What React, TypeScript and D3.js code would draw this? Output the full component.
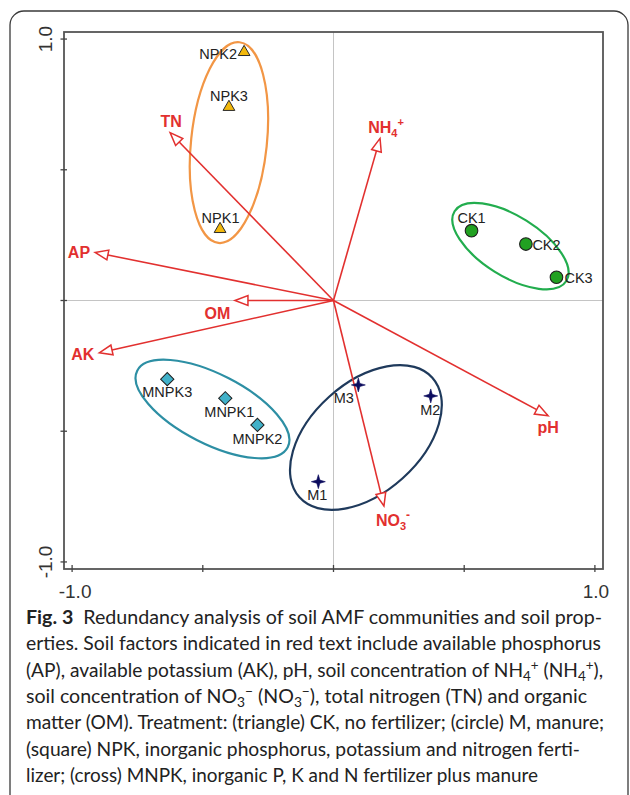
import * as d3 from 'd3'

// sample scores (RDA axis units)
const npkNames = ['NPK1', 'NPK2', 'NPK3']
const npkX = [-0.434, -0.342, -0.4]
const npkY = [0.273, 0.95, 0.74]
const ckNames = ['CK1', 'CK2', 'CK3']
const ckX = [0.528, 0.736, 0.853]
const ckY = [0.267, 0.216, 0.089]
const mnpkNames = ['MNPK1', 'MNPK2', 'MNPK3']
const mnpkX = [-0.414, -0.291, -0.636]
const mnpkY = [-0.374, -0.476, -0.301]
const mNames = ['M1', 'M2', 'M3']
const mX = [-0.058, 0.372, 0.095]
const mY = [-0.693, -0.365, -0.323]

// soil factor vectors
const envNames = ['TN', 'AP', 'NH4', 'OM', 'AK', 'pH', 'NO3']
const envX = [-0.625, -0.912, 0.178, -0.377, -0.896, 0.821, 0.193]
const envY = [0.642, 0.184, 0.62, 0, -0.2, -0.441, -0.786]

// group ellipses: centre, semi axes, tilt (deg)
const ellGroups = ['NPK', 'CK', 'MNPK', 'M']
const ellCx = [-0.4, 0.677, -0.463, 0.124]
const ellCy = [0.604, 0.208, -0.415, -0.524]
const ellRx = [0.145, 0.252, 0.323, 0.342]
const ellRy = [0.386, 0.115, 0.133, 0.21]
const ellTilt = [6, 32, 27, -42]

const tickValues = [-1, -0.5, 0, 0.5, 1]
const tickLabelValues = [-1, 1]
const tickLabels = ['-1.0', '1.0']

const ellColor: Record<string, string> = { NPK: '#f29645', CK: '#22ad4e', MNPK: '#2d8fa4', M: '#1f3a5c' }
const RED = '#e2302f'
const FONT = '"Liberation Sans", Arial, Helvetica, sans-serif'

// label placement relative to the point / arrow tip (px)
const ptLabel: Record<string, [string, number, number]> = {
  NPK1: ['middle', 0.5, -6], NPK2: ['end', -7, 7], NPK3: ['middle', 0, -6.5],
  CK1: ['middle', 0, -7.5], CK2: ['start', 6.5, 6], CK3: ['start', 8, 6],
  MNPK1: ['middle', 4, 18.5], MNPK2: ['middle', 0, 19], MNPK3: ['middle', 0, 18],
  M1: ['middle', -1, 18.5], M2: ['middle', -0.5, 19], M3: ['middle', -14.5, 18.5],
}
const envLabel: Record<string, [string, number, number]> = {
  TN: ['middle', 1, -6], AP: ['end', -5, 6], NH4: ['middle', 6, -5], OM: ['middle', -17.5, 18.5],
  AK: ['end', -5, 7.5], pH: ['middle', 0, 17.5], NO3: ['middle', 9, 20.5],
}

type Seg = { t: string; b?: boolean; sub?: boolean; sup?: boolean }
const caption: Seg[][] = [
  [{ t: 'Fig. 3', b: true }, { t: '\u00a0 Redundancy analysis of soil AMF communities and soil prop-' }],
  [{ t: 'erties. Soil factors indicated in red text include available phosphorus' }],
  [{ t: '(AP), available potassium (AK), pH, soil concentration of NH' }, { t: '4', sub: true }, { t: '+', sup: true },
    { t: ' (NH' }, { t: '4', sub: true }, { t: '+', sup: true }, { t: '),' }],
  [{ t: 'soil concentration of NO' }, { t: '3', sub: true }, { t: '\u2212', sup: true }, { t: ' (NO' }, { t: '3', sub: true },
    { t: '\u2212', sup: true }, { t: '), total nitrogen (TN) and organic' }],
  [{ t: 'matter (OM). Treatment: (triangle) CK, no fertilizer; (circle) M, manure;' }],
  [{ t: '(square) NPK, inorganic phosphorus, potassium and nitrogen ferti-' }],
  [{ t: 'lizer; (cross) MNPK, inorganic P, K and N fertilizer plus manure' }],
]
const captionWidths = [576, 575, 577, 561, 578, 554, 512]

export default function App() {
  const W = 630, H = 795
  const x = d3.scaleLinear().domain([-1.031, 1.031]).range([64, 603])
  const y = d3.scaleLinear().domain([-1.027, 1.027]).range([569, 32])
  const [x0, x1] = x.range(), [y0, y1] = y.range()
  const ox = x(0), oy = y(0)
  const k = x(1) - x(0)

  const tri = d3.symbol(d3.symbolTriangle, 60)()
  const sq = d3.symbol(d3.symbolSquare, 88)()
  const star = d3.lineRadial<number>().angle((_, i) => (i * Math.PI) / 4).radius((d) => d).curve(d3.curveLinearClosed)([
    7, 2.2, 7, 2.2, 7, 2.2, 7, 2.2,
  ])

  const txt = (name: string, px: number, py: number) => {
    const [a, dx, dy] = ptLabel[name]
    return (
      <text key={'l' + name} x={px + dx} y={py + dy} textAnchor={a} fontSize={14.5} fill="#222" fontFamily={FONT}>
        {name}
      </text>
    )
  }

  const envText = (name: string) => {
    if (name === 'NH4')
      return (
        <>
          NH<tspan fontSize={11} dy={4}>4</tspan>
          <tspan fontSize={11} dy={-11}>+</tspan>
        </>
      )
    if (name === 'NO3')
      return (
        <>
          NO<tspan fontSize={11} dy={4}>3</tspan>
          <tspan fontSize={12} dy={-11}>-</tspan>
        </>
      )
    return name
  }

  return (
    <svg width={W} height={H} style={{ position: 'absolute', left: 0, top: 0, background: '#fff' }}>
      <rect x={10} y={11} width={618} height={800} rx={14} fill="none" stroke="#3a3a3a" strokeWidth={1.3} />

      {/* centre lines */}
      <line x1={x0} x2={x1} y1={oy} y2={oy} stroke="#c4c4c4" strokeWidth={1} />
      <line x1={ox} x2={ox} y1={y0} y2={y1} stroke="#c4c4c4" strokeWidth={1} />

      {/* ellipses */}
      {ellGroups.map((g, i) => {
        const cx = x(ellCx[i]), cy = y(ellCy[i])
        return (
          <ellipse key={g} cx={cx} cy={cy} rx={ellRx[i] * k} ry={ellRy[i] * k}
            transform={`rotate(${ellTilt[i]} ${cx} ${cy})`} fill="none" stroke={ellColor[g]} strokeWidth={2.2} />
        )
      })}

      {/* soil factor arrows */}
      {envNames.map((n, i) => {
        const tx = x(envX[i]), ty = y(envY[i])
        const len = Math.hypot(tx - ox, ty - oy)
        const ux = (tx - ox) / len, uy = (ty - oy) / len
        const L = 13, w = 5
        const bx = tx - ux * L, by = ty - uy * L
        const head = [[tx, ty], [bx - uy * w, by + ux * w], [bx + uy * w, by - ux * w]]
        const [a, dx, dy] = envLabel[n]
        return (
          <g key={n}>
            <line x1={ox} y1={oy} x2={bx} y2={by} stroke={RED} strokeWidth={1.6} />
            <polygon points={head.map((p) => p.join(',')).join(' ')} fill="#fff" stroke={RED} strokeWidth={1.5} />
            <text x={tx + dx} y={ty + dy} textAnchor={a} fill={RED} fontFamily={FONT} fontWeight="bold" fontSize={16}>
              {envText(n)}
            </text>
          </g>
        )
      })}

      {/* samples */}
      {npkNames.map((n, i) => (
        <g key={n}>
          <path d={tri!} transform={`translate(${x(npkX[i])},${y(npkY[i])})`} fill="#f2b80c" stroke="#2a2a2a" strokeWidth={1} />
          {txt(n, x(npkX[i]), y(npkY[i]))}
        </g>
      ))}
      {ckNames.map((n, i) => (
        <g key={n}>
          <circle cx={x(ckX[i])} cy={y(ckY[i])} r={6.3} fill="#21a121" stroke="#1e1e1e" strokeWidth={1.1} />
          {txt(n, x(ckX[i]), y(ckY[i]))}
        </g>
      ))}
      {mnpkNames.map((n, i) => (
        <g key={n}>
          <path d={sq!} transform={`translate(${x(mnpkX[i])},${y(mnpkY[i])}) rotate(45)`} fill="#41b1c9" stroke="#1e1e1e" strokeWidth={1} />
          {txt(n, x(mnpkX[i]), y(mnpkY[i]))}
        </g>
      ))}
      {mNames.map((n, i) => (
        <g key={n}>
          <path d={star!} transform={`translate(${x(mX[i])},${y(mY[i])})`} fill="#0c0c5e" stroke="#0c0c5e" strokeWidth={0.6} />
          {txt(n, x(mX[i]), y(mY[i]))}
        </g>
      ))}

      {/* frame + ticks */}
      <rect x={x0} y={y1} width={x1 - x0} height={y0 - y1} fill="none" stroke="#555" strokeWidth={1.8} />
      {tickValues.map((v) => (
        <g key={v} stroke="#444" strokeWidth={1.3}>
          <line x1={x(v)} x2={x(v)} y1={y0 - 4} y2={y0 + 3} />
          <line x1={x0 - 3.5} x2={x0 + 3} y1={y(v)} y2={y(v)} />
        </g>
      ))}
      {tickLabelValues.map((v, i) => (
        <g key={'t' + v} fontFamily={FONT} fontSize={19} fill="#333">
          <text x={x(v) + (v < 0 ? 3 : 1)} y={598} textAnchor="middle">{tickLabels[i]}</text>
          <text transform={`translate(52,${y(v)}) rotate(-90)`} textAnchor="middle">{tickLabels[i]}</text>
        </g>
      ))}

      {/* caption */}
      {caption.map((segs, li) => (
        <text key={li} x={26} y={624 + li * 26.3} fontFamily='Lato, "Open Sans", sans-serif' fontSize={18.5} fill="#222"
          textLength={captionWidths[li]} lengthAdjust="spacingAndGlyphs">
          {segs.map((s, si) => (
            <tspan key={si} fontWeight={s.b ? 'bold' : 'normal'} fontSize={s.sub || s.sup ? 13 : undefined}
              baselineShift={s.sub ? -4 : s.sup ? 7 : undefined}>
              {s.t}
            </tspan>
          ))}
        </text>
      ))}
    </svg>
  )
}
